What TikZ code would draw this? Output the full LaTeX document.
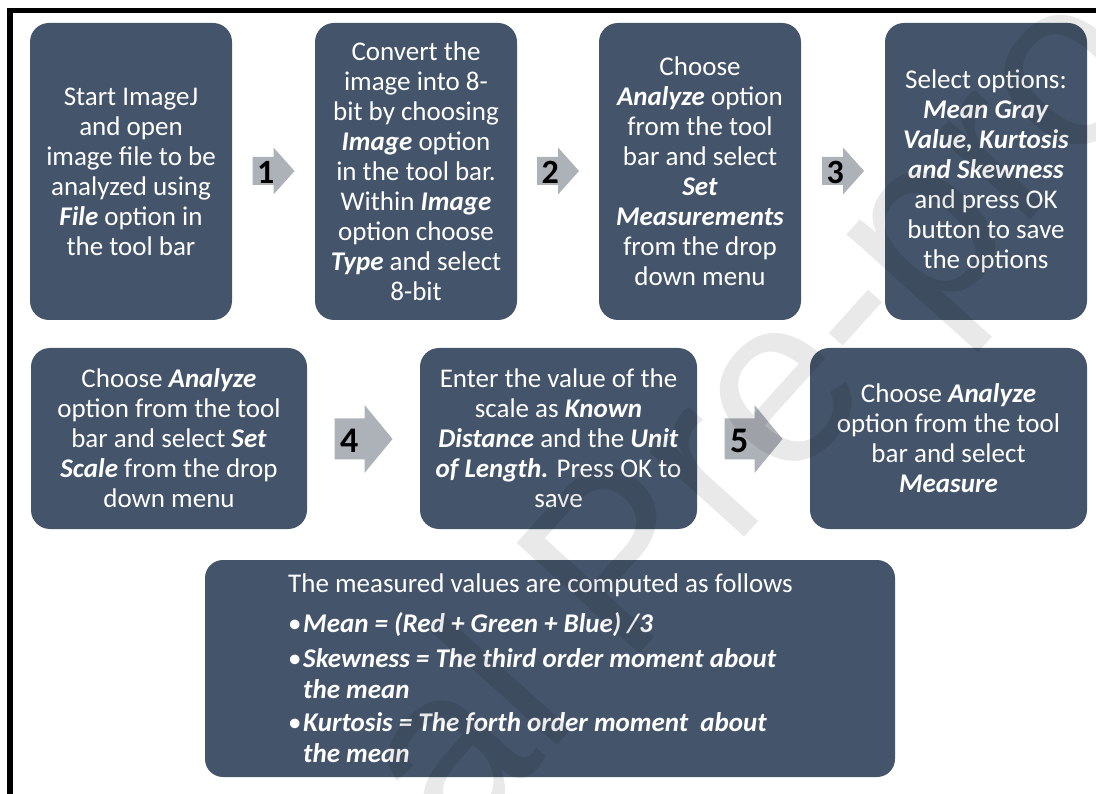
\documentclass[tikz,border=0pt]{standalone}
\usepackage{fontspec}
\setmainfont{Carlito}
\newfontfamily\wmfont{Liberation Sans}
\usetikzlibrary{calc}
\definecolor{boxcol}{HTML}{44546A}
\definecolor{arrowcol}{HTML}{ADB1B8}
\newcommand\kw[1]{\textbf{\textit{#1}}}

\begin{document}
\begin{tikzpicture}[x=1pt,y=-1pt,
  stepbox/.style={rectangle, rounded corners=19pt, fill=boxcol, text=white,
    align=center, inner sep=0pt, font=\fontsize{27}{30}\selectfont},
  tallbox/.style={stepbox, minimum width=202pt, minimum height=297pt},
  widebox/.style={stepbox, minimum width=277pt, minimum height=181pt},
  numlbl/.style={inner sep=0pt, anchor=west, text=black},
  arrowA/.pic={\fill[arrowcol] (0,-14) -- (21,-14) -- (21,-23.5) -- (42,0)
      -- (21,23.5) -- (21,14) -- (0,14) -- cycle;},
  arrowB/.pic={\fill[arrowcol] (0,-20.5) -- (30,-20.5) -- (30,-34) -- (58,0)
      -- (30,34) -- (30,20.5) -- (0,20.5) -- cycle;},
]
\useasboundingbox (0,0) rectangle (1096,794);
\clip (0,0) rectangle (1096,794);
\fill[white] (0,0) rectangle (1096,794);

% outer frame (only top and left edges fall inside the page)
\draw[line width=5.5pt] (10,10.5) rectangle (1200,900);

% first row of steps
\node[tallbox] (s1) at (131,171.5) {Start ImageJ\\and open\\image file to be\\analyzed using\\\kw{File} option in\\the tool bar};
\node[tallbox] (s2) at (416,171.5) {Convert the\\image into 8-\\bit by choosing\\\kw{Image} option\\in the tool bar.\\Within \kw{Image}\\option choose\\\kw{Type} and select\\8-bit};
\node[tallbox] (s3) at (700,171.5) {Choose\\\kw{Analyze} option\\from the tool\\bar and select\\\kw{Set}\\\kw{Measurements}\\from the drop\\down menu};
\node[tallbox] (s4) at (986,171.5) {Select options:\\\kw{Mean Gray}\\\kw{Value, Kurtosis}\\\kw{and Skewness}\\and press OK\\button to save\\the options};

% second row of steps
\node[widebox, minimum width=276pt] (s5) at (169,438.5) {Choose \kw{Analyze}\\option from the tool\\bar and select \kw{Set}\\\kw{Scale} from the drop\\down menu};
\node[widebox] (s6) at (558.5,438.5) {Enter the value of the\\scale as \kw{Known}\\\kw{Distance} and the \kw{Unit}\\\kw{of Length.} Press OK to\\save};
\node[widebox] (s7) at (948.5,438.5) {Choose \kw{Analyze}\\option from the tool\\bar and select\\\kw{Measure}};

% summary box
\node[stepbox, minimum width=690pt, minimum height=217pt, rounded corners=18pt] (s8) at (550,668.5) {};
\node[anchor=west, align=left, inner sep=0pt, text=white,
  font=\fontsize{27}{31}\selectfont] (fx) at (288,668)
  {The measured values are computed as follows\\[9pt]
   \makebox[15pt][l]{•}\kw{Mean = (Red + Green + Blue) /3}\\[4pt]
   \makebox[15pt][l]{•}\kw{Skewness = The third order moment about}\\
   \hspace*{15pt}\kw{the mean}\\[2pt]
   \makebox[15pt][l]{•}\kw{Kurtosis = The forth order moment~ about}\\
   \hspace*{15pt}\kw{the mean}};

% block arrows between the steps
\pic at ($(s1.east)!0.5!(s2.west)+(-21,-0.5)$) {arrowA};
\pic at ($(s2.east)!0.5!(s3.west)+(-21,-0.5)$) {arrowA};
\pic at ($(s3.east)!0.5!(s4.west)+(-21,-0.5)$) {arrowA};
\pic at ($(s5.east)!0.5!(s6.west)+(-29,0.5)$) {arrowB};
\pic at ($(s6.east)!0.5!(s7.west)+(-29,0.5)$) {arrowB};

\begin{scope}[every node/.append style={font=\fontsize{34}{34}\selectfont\bfseries}]
\node[numlbl] (n1) at ($(s1.east)!0.5!(s2.west)+(-16.5,1)$) {1};
\node[numlbl] (n2) at ($(s2.east)!0.5!(s3.west)+(-16.5,1)$) {2};
\node[numlbl] (n3) at ($(s3.east)!0.5!(s4.west)+(-16.5,1)$) {3};
\end{scope}
\begin{scope}[every node/.append style={font=\fontsize{36}{36}\selectfont\bfseries}]
\node[numlbl] (n4) at ($(s5.east)!0.5!(s6.west)+(-23.5,2)$) {4};
\node[numlbl] (n5) at ($(s6.east)!0.5!(s7.west)+(-23.5,2)$) {5};
\end{scope}

% faint diagonal watermark
\node[rotate=48, text=black, text opacity=0.085, inner sep=0pt,
  font=\wmfont\fontsize{240}{240}\selectfont] (wm) at (630,572) {Journal Pre-proof};
\end{tikzpicture}
\end{document}
